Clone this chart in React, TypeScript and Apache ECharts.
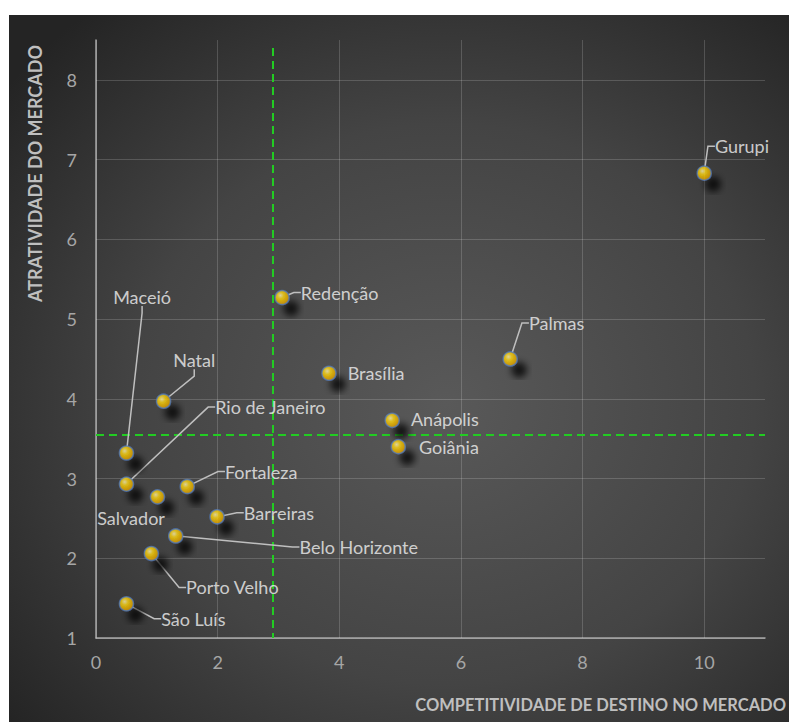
import React, { useEffect, useRef } from 'react';
import * as echarts from 'echarts';

// Destinos avaliados
const cidades = [
  'Gurupi', 'Palmas', 'Redenção', 'Brasília', 'Anápolis', 'Goiânia', 'Natal', 'Maceió',
  'Rio de Janeiro', 'Salvador', 'Fortaleza', 'Barreiras', 'Belo Horizonte', 'Porto Velho', 'São Luís',
];
// Eixo X: competitividade de destino no mercado
const competitividade = [10.0, 6.81, 3.06, 3.83, 4.87, 4.97, 1.11, 0.5, 0.5, 1.01, 1.5, 1.99, 1.31, 0.91, 0.5];
// Eixo Y: atratividade do mercado
const atratividade = [6.83, 4.5, 5.27, 4.32, 3.73, 3.4, 3.97, 3.32, 2.93, 2.77, 2.9, 2.52, 2.28, 2.06, 1.43];

// Linhas de corte dos quadrantes
const corteCompetitividade = 2.9;
const corteAtratividade = 3.55;
const topoCorte = 8.4;

// Marcas das grades
const xTicks = [0, 2, 4, 6, 8, 10];
const yTicks = [1, 2, 3, 4, 5, 6, 7, 8];

// Deslocamento (dx, dy) de cada rótulo a partir da posição à direita do ponto
const deslocRotulo: [number, number][] = [
  [-6, -27], [2, -36], [2, -5], [2, 0], [2, -1], [4, 0], [-7, -41], [-30, -156],
  [72, -77], [-77, 21], [21, -15], [10, -4], [107, 11], [18, 34], [18, 15],
];
// Rótulos ligados ao ponto por linha guia
const comGuia = [true, true, true, false, false, false, true, true, true, false, true, true, true, true, true];

const FONT = 'Lato, "Open Sans", sans-serif';

export default function App() {
  const ref = useRef<HTMLDivElement>(null);

  useEffect(() => {
    if (!ref.current) return;
    const chart = echarts.init(ref.current, undefined, { renderer: 'svg' });

    const pontos = cidades.map((nome, i) => ({
      name: nome,
      value: [competitividade[i], atratividade[i]],
      labelLine: { show: comGuia[i] },
    }));

    const gridLine = { color: 'rgba(255,255,255,0.17)', width: 1, type: 'solid' as const };

    chart.setOption({
      animation: false,
      graphic: [
        {
          type: 'rect',
          z: -100,
          silent: true,
          shape: { x: 9, y: 15, width: 780, height: 707 },
          style: {
            fill: {
              type: 'radial',
              x: 0.56,
              y: 0.55,
              r: 0.72,
              colorStops: [
                { offset: 0, color: '#595959' },
                { offset: 0.55, color: '#444444' },
                { offset: 1, color: '#242424' },
              ],
            },
          },
        },
        {
          type: 'text',
          x: 35,
          y: 45,
          rotation: Math.PI / 2,
          style: {
            text: 'ATRATIVIDADE DO MERCADO',
            fill: '#bfbfbf',
            font: `bold 18px ${FONT}`,
            align: 'right',
            verticalAlign: 'middle',
            textAlign: 'right',
            textVerticalAlign: 'middle',
          },
        },
        {
          type: 'text',
          x: 786,
          y: 705,
          style: {
            text: 'COMPETITIVIDADE DE DESTINO NO MERCADO',
            fill: '#bfbfbf',
            font: `bold 16.5px ${FONT}`,
            align: 'right',
            verticalAlign: 'middle',
            textAlign: 'right',
            textVerticalAlign: 'middle',
          },
        },
      ],
      grid: { left: 96, top: 40, right: 24, bottom: 84, containLabel: false },
      xAxis: {
        type: 'value',
        min: 0,
        max: 11,
        interval: 2,
        axisLine: { show: true, onZero: false, lineStyle: { color: '#a6a6a6', width: 1.5 } },
        axisTick: { show: false },
        splitLine: { show: false },
        axisLabel: {
          showMaxLabel: false,
          color: '#a6a6a6',
          fontFamily: FONT,
          fontSize: 18,
          margin: 15,
        },
      },
      yAxis: {
        type: 'value',
        min: 1,
        max: 8.5,
        interval: 1,
        axisLine: { show: true, onZero: false, lineStyle: { color: '#a6a6a6', width: 1.5 } },
        axisTick: { show: false },
        splitLine: { show: false },
        axisLabel: {
          showMaxLabel: false,
          color: '#a6a6a6',
          fontFamily: FONT,
          fontSize: 18,
          margin: 19,
        },
      },
      series: [
        {
          // grades
          type: 'scatter',
          data: [],
          silent: true,
          z: 1,
          markLine: {
            silent: true,
            symbol: ['none', 'none'],
            label: { show: false },
            lineStyle: gridLine,
            data: [
              ...xTicks.map((v) => ({ xAxis: v })),
              ...yTicks.map((v) => ({ yAxis: v })),
            ],
          },
        },
        {
          // linhas de corte
          type: 'scatter',
          data: [],
          silent: true,
          z: 2,
          markLine: {
            silent: true,
            symbol: ['none', 'none'],
            label: { show: false },
            lineStyle: { color: '#22cc22', width: 2, type: [8, 5] },
            data: [
              [{ coord: [corteCompetitividade, topoCorte] }, { coord: [corteCompetitividade, 1] }],
              { yAxis: corteAtratividade },
            ],
          },
        },
        {
          type: 'scatter',
          z: 5,
          symbol: 'circle',
          symbolSize: 14,
          data: pontos,
          itemStyle: {
            color: {
              type: 'radial',
              x: 0.38,
              y: 0.35,
              r: 0.7,
              colorStops: [
                { offset: 0, color: '#fff4b0' },
                { offset: 0.35, color: '#ffd60a' },
                { offset: 1, color: '#d99500' },
              ],
            },
            borderColor: 'rgba(80,125,200,0.85)',
            borderWidth: 1.5,
            shadowBlur: 7,
            shadowColor: 'rgba(0,0,0,0.95)',
            shadowOffsetX: 9,
            shadowOffsetY: 11,
          },
          label: {
            show: true,
            position: 'right',
            distance: 5,
            padding: [2, 4],
            formatter: '{b}',
            color: '#f2f2f2',
            fontFamily: FONT,
            fontSize: 18,
          },
          labelLine: {
            show: true,
            length2: 7,
            lineStyle: { color: '#bfbfbf', width: 1.5 },
          },
          labelLayout: (p: any) => ({
            dx: deslocRotulo[p.dataIndex][0],
            dy: deslocRotulo[p.dataIndex][1],
          }),
        },
      ],
    });

    return () => chart.dispose();
  }, []);

  return (
    <div style={{ position: 'fixed', left: 0, top: 0, width: 789, height: 722, background: '#ffffff' }}>
      <div ref={ref} style={{ width: 789, height: 722 }} />
    </div>
  );
}
